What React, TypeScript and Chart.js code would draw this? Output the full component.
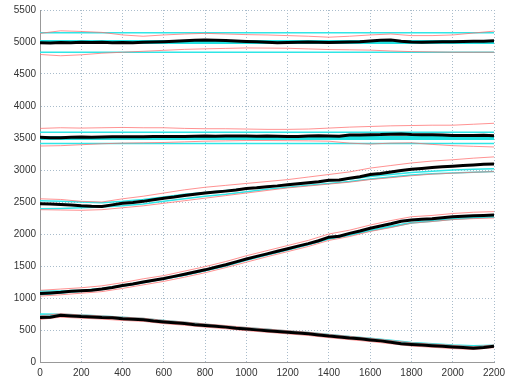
import React, { useEffect, useRef } from "react";
import { Chart, registerables } from "chart.js";

Chart.register(...registerables);

const X = [0, 100, 200, 300, 400, 500, 600, 700, 800, 900, 1000, 1100, 1200, 1300, 1400, 1500, 1600, 1700, 1800, 1900, 2000, 2100, 2200];
const XB = [0, 50, 100, 150, 200, 250, 300, 350, 400, 450, 500, 550, 600, 650, 700, 750, 800, 850, 900, 950, 1000, 1050, 1100, 1150, 1200, 1250, 1300, 1350, 1400, 1450, 1500, 1550, 1600, 1650, 1700, 1750, 1800, 1850, 1900, 1950, 2000, 2050, 2100, 2150, 2200];

// Group 1 (~5000)
const g1Black = [4990, 4985, 4992, 4990, 4995, 4993, 4997, 4990, 4992, 4988, 4998, 5000, 5005, 5012, 5020, 5028, 5030, 5027, 5024, 5015, 5008, 5003, 4998, 4990, 4993, 4998, 5000, 4997, 4993, 4998, 5000, 5005, 5015, 5028, 5033, 5012, 5000, 4998, 5000, 5002, 5003, 5006, 5010, 5013, 5018];
const g1RedHi = [5135, 5175, 5165, 5150, 5110, 5090, 5110, 5125, 5135, 5125, 5115, 5110, 5100, 5090, 5075, 5090, 5110, 5125, 5100, 5100, 5110, 5140, 5170];
const g1RedLo = [4805, 4785, 4800, 4825, 4840, 4855, 4870, 4885, 4893, 4900, 4907, 4905, 4902, 4892, 4882, 4878, 4873, 4860, 4850, 4845, 4840, 4840, 4840];
const g1CyanHi = [5145, 5145, 5145, 5145, 5145, 5145, 5145, 5145, 5145, 5145, 5145, 5145, 5145, 5145, 5145, 5145, 5145, 5145, 5145, 5145, 5145, 5145, 5145];
const g1CyanMid = [5000, 5000, 5000, 5000, 5000, 5000, 5000, 5000, 5000, 5000, 5000, 5000, 5000, 5000, 5000, 5000, 5000, 5000, 5000, 5000, 5000, 5000, 5000];
const g1CyanLo = [4840, 4840, 4840, 4840, 4840, 4840, 4840, 4840, 4840, 4840, 4840, 4840, 4840, 4840, 4840, 4840, 4840, 4840, 4840, 4840, 4840, 4840, 4840];

// Group 2 (~3500)
const g2Black = [3510, 3505, 3505, 3512, 3515, 3512, 3515, 3520, 3520, 3518, 3520, 3522, 3525, 3522, 3525, 3527, 3530, 3528, 3530, 3532, 3530, 3528, 3530, 3526, 3525, 3522, 3530, 3535, 3530, 3528, 3545, 3548, 3550, 3553, 3560, 3562, 3555, 3552, 3550, 3548, 3540, 3538, 3540, 3542, 3535];
const g2RedHi = [3650, 3660, 3655, 3660, 3665, 3660, 3660, 3650, 3645, 3645, 3640, 3635, 3635, 3640, 3655, 3670, 3680, 3690, 3695, 3700, 3700, 3715, 3730];
const g2RedLo = [3375, 3380, 3395, 3410, 3420, 3425, 3430, 3440, 3450, 3455, 3460, 3460, 3458, 3455, 3450, 3420, 3405, 3420, 3425, 3400, 3380, 3370, 3360];
const g2CyanHi = [3590, 3590, 3590, 3590, 3590, 3590, 3590, 3590, 3590, 3590, 3590, 3590, 3590, 3590, 3590, 3590, 3590, 3590, 3590, 3590, 3590, 3590, 3590];
const g2CyanMid = [3500, 3500, 3500, 3500, 3500, 3500, 3500, 3500, 3500, 3500, 3500, 3500, 3500, 3500, 3500, 3500, 3500, 3500, 3500, 3500, 3500, 3500, 3500];
const g2CyanLo = [3415, 3415, 3415, 3415, 3415, 3415, 3415, 3415, 3415, 3415, 3415, 3415, 3415, 3415, 3415, 3415, 3415, 3415, 3415, 3415, 3415, 3415, 3415];

// Group 3 (~2500 -> 3100)
const g3Black = [2473, 2468, 2460, 2452, 2440, 2432, 2430, 2455, 2480, 2492, 2510, 2535, 2560, 2578, 2600, 2620, 2640, 2655, 2670, 2688, 2710, 2722, 2740, 2752, 2770, 2785, 2800, 2815, 2840, 2845, 2870, 2895, 2930, 2945, 2970, 2992, 3010, 3025, 3040, 3050, 3060, 3070, 3080, 3090, 3095];
const g3RedHi = [2550, 2540, 2510, 2500, 2550, 2590, 2640, 2690, 2730, 2760, 2790, 2820, 2850, 2890, 2930, 2970, 3030, 3070, 3110, 3140, 3160, 3185, 3205];
const g3RedLo = [2380, 2375, 2370, 2380, 2410, 2440, 2480, 2520, 2560, 2600, 2640, 2680, 2720, 2750, 2780, 2810, 2850, 2880, 2910, 2935, 2950, 2965, 2975];
const g3CyanA = [2520, 2510, 2500, 2490, 2510, 2540, 2580, 2620, 2650, 2680, 2710, 2740, 2770, 2800, 2830, 2860, 2900, 2930, 2960, 2980, 3000, 3010, 3020];
const g3CyanB = [2395, 2400, 2410, 2420, 2440, 2470, 2510, 2550, 2590, 2620, 2660, 2700, 2730, 2760, 2790, 2820, 2860, 2890, 2920, 2940, 2955, 2965, 2975];

// Group 4 (~1070 -> 2300)
const g4Black = [1070, 1080, 1090, 1105, 1115, 1120, 1140, 1165, 1195, 1220, 1250, 1278, 1305, 1338, 1370, 1405, 1440, 1480, 1520, 1565, 1610, 1650, 1690, 1730, 1770, 1810, 1850, 1895, 1950, 1965, 2010, 2048, 2090, 2125, 2160, 2200, 2220, 2230, 2240, 2255, 2270, 2278, 2285, 2290, 2295];
const g4RedHi = [1120, 1140, 1160, 1190, 1240, 1300, 1350, 1420, 1490, 1570, 1660, 1740, 1820, 1900, 2000, 2060, 2140, 2210, 2270, 2290, 2320, 2340, 2350];
const g4RedLo = [1030, 1050, 1075, 1100, 1150, 1205, 1260, 1325, 1395, 1475, 1560, 1645, 1725, 1805, 1900, 1960, 2040, 2100, 2170, 2195, 2225, 2240, 2250];
const g4CyanA = [1110, 1110, 1120, 1150, 1200, 1250, 1300, 1360, 1430, 1510, 1600, 1680, 1760, 1840, 1930, 1990, 2060, 2120, 2180, 2210, 2240, 2260, 2270];
const g4CyanB = [1050, 1080, 1105, 1135, 1185, 1240, 1295, 1355, 1425, 1500, 1590, 1670, 1750, 1830, 1920, 1980, 2050, 2110, 2170, 2200, 2230, 2250, 2265];

// Group 5 (~700 -> 250)
const g5Black = [694, 700, 730, 720, 710, 705, 695, 690, 675, 668, 660, 640, 625, 612, 600, 582, 570, 560, 545, 528, 515, 502, 490, 478, 465, 452, 440, 422, 405, 392, 375, 362, 345, 330, 310, 285, 275, 265, 255, 245, 235, 228, 215, 225, 245];
const g5RedHi = [720, 755, 735, 720, 700, 685, 650, 625, 595, 570, 540, 515, 490, 465, 430, 400, 370, 335, 300, 280, 260, 240, 265];
const g5RedLo = [665, 700, 685, 670, 650, 635, 600, 575, 545, 520, 490, 465, 440, 415, 380, 350, 320, 285, 250, 230, 210, 195, 225];
const g5CyanA = [750, 745, 735, 720, 700, 680, 650, 620, 590, 560, 535, 510, 485, 460, 430, 400, 370, 340, 305, 285, 265, 255, 260];
const g5CyanB = [730, 735, 720, 705, 690, 670, 640, 610, 580, 555, 525, 500, 475, 450, 420, 390, 360, 325, 295, 270, 250, 240, 250];

const blackSeries = [g1Black, g2Black, g3Black, g4Black, g5Black];
const redSeries = [g1RedHi, g1RedLo, g2RedHi, g2RedLo, g3RedHi, g3RedLo, g4RedHi, g4RedLo, g5RedHi, g5RedLo];
const cyanThin = [g1CyanHi, g1CyanLo, g2CyanHi, g2CyanLo, g3CyanA, g3CyanB, g4CyanA, g4CyanB, g5CyanA, g5CyanB];
const cyanThick = [g1CyanMid, g2CyanMid];

const toPts = (xs: number[], ys: number[]) => ys.map((y, i) => ({ x: xs[i], y }));

export default function App() {
  const ref = useRef<HTMLCanvasElement>(null);
  useEffect(() => {
    document.body.style.margin = "0";
    const datasets: any[] = [];
    cyanThin.forEach((s) =>
      datasets.push({ data: toPts(X, s), borderColor: "#2ee6e6", borderWidth: 1.5, order: 2 })
    );
    cyanThick.forEach((s) =>
      datasets.push({ data: toPts(X, s), borderColor: "#1fe0e0", borderWidth: 4, order: 2 })
    );
    redSeries.forEach((s) =>
      datasets.push({ data: toPts(X, s), borderColor: "rgba(255,110,110,0.75)", borderWidth: 1, order: 1 })
    );
    blackSeries.forEach((s) =>
      datasets.push({ data: toPts(XB, s), borderColor: "#000000", borderWidth: 3, order: 0 })
    );
    datasets.forEach((d) => {
      d.pointRadius = 0;
      d.tension = 0;
      d.fill = false;
    });
    const tickFont = { family: "Liberation Sans", size: 10 };
    const chart = new Chart(ref.current!, {
      type: "line",
      data: { datasets },
      options: {
        animation: false,
        responsive: false,
        devicePixelRatio: 1,
        layout: { padding: { top: 6, right: 18, bottom: 0, left: 0 } },
        plugins: { legend: { display: false }, tooltip: { enabled: false } },
        scales: {
          x: {
            type: "linear",
            min: 0,
            max: 2200,
            afterFit: (s: any) => { s.height = 23; },
            ticks: { stepSize: 200, padding: 5, color: "#333", font: tickFont, maxRotation: 0, callback: (v: any) => String(v) },
            grid: { color: "#a9bccb", lineWidth: 1, drawTicks: false },
            border: { display: true, color: "#999", dash: [1, 2] },
          },
          y: {
            type: "linear",
            min: 0,
            max: 5500,
            afterFit: (s: any) => { s.width = 40; },
            ticks: { stepSize: 500, padding: 4, color: "#333", font: tickFont, callback: (v: any) => String(v) },
            grid: { color: "#a9bccb", lineWidth: 1, drawTicks: false },
            border: { display: true, color: "#999", dash: [1, 2] },
          },
        },
      } as any,
    });
    return () => chart.destroy();
  }, []);
  return (
    <div style={{ position: "fixed", left: 0, top: 0, width: 512, height: 385, background: "#fff" }}>
      <canvas ref={ref} width={512} height={385} />
    </div>
  );
}
